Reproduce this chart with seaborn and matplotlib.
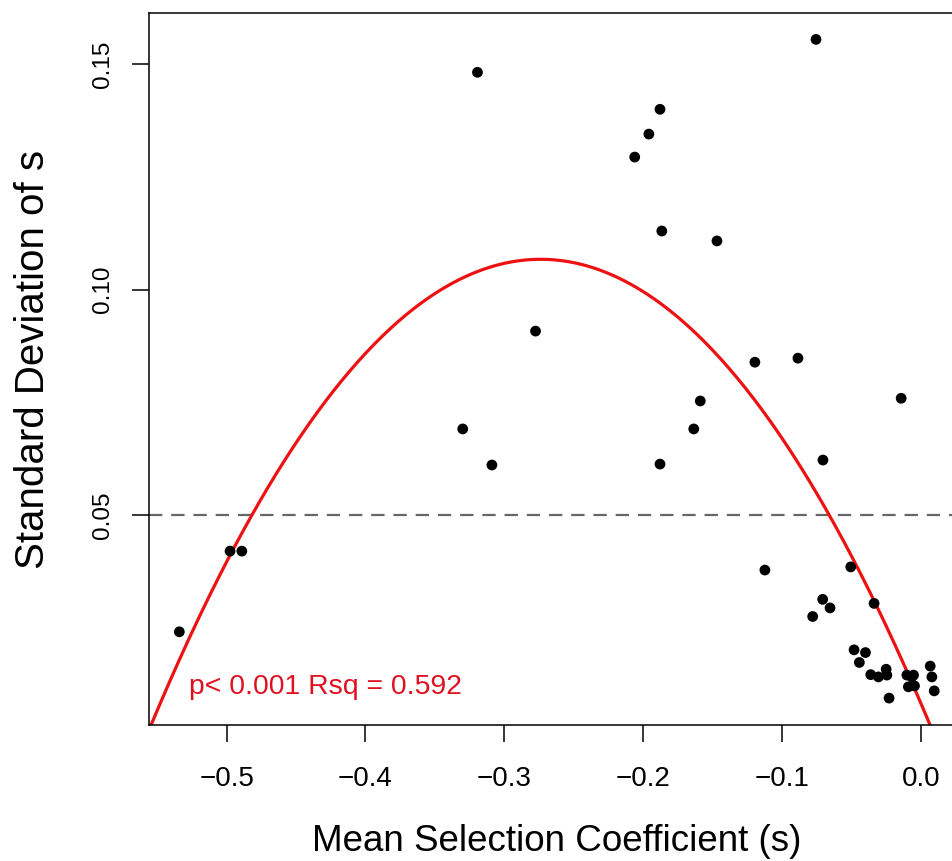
import matplotlib
matplotlib.use("Agg")
import matplotlib.pyplot as plt
import numpy as np
import pandas as pd
import seaborn as sns

sns.set_style("white")
plt.rcParams['font.family'] = ['Liberation Sans', 'DejaVu Sans']
plt.rcParams['text.color'] = 'black'
plt.rcParams['axes.labelcolor'] = 'black'
plt.rcParams['xtick.color'] = 'black'
plt.rcParams['ytick.color'] = 'black'

# Data
mean_s = [-0.534, -0.4975, -0.489, -0.3194, -0.330, -0.309, -0.2776, -0.2062, -0.196, -0.188,
          -0.1867, -0.188, -0.147, -0.1637, -0.159, -0.1197, -0.0887, -0.0757, -0.0707, -0.0144,
          -0.1125, -0.0507, -0.0709, -0.0656, -0.0781, -0.0339, -0.0483, -0.0401, -0.0445, -0.0363,
          -0.0308, -0.0252, -0.0247, -0.0231, -0.0103, -0.0067, -0.0055, -0.0092, -0.0048, 0.0065,
          0.0077, 0.0094]
sd_s = [0.0241, 0.0420, 0.0420, 0.1482, 0.0691, 0.0611, 0.0908, 0.1294, 0.1345, 0.1400,
        0.1130, 0.0613, 0.1108, 0.0691, 0.0753, 0.0839, 0.0848, 0.1555, 0.0622, 0.0759,
        0.0378, 0.0385, 0.0313, 0.0294, 0.0275, 0.0304, 0.0201, 0.0195, 0.0173, 0.0146,
        0.0141, 0.0158, 0.0145, 0.0094, 0.0145, 0.0141, 0.0145, 0.0119, 0.0121, 0.0165,
        0.0141, 0.0110]
# quadratic fit: a*x^2 + b*x + c
fit_coef = [-1.314, -0.720, 0.0081]
threshold = 0.05
annotation = "p< 0.001 Rsq = 0.592"

x_ticks = [-0.5, -0.4, -0.3, -0.2, -0.1, 0.0]
y_ticks = [0.05, 0.10, 0.15]

df = pd.DataFrame({"mean_s": mean_s, "sd_s": sd_s})

fig = plt.figure(figsize=(9.52, 8.61), dpi=100)
# plot region runs a little past the right edge of the picture (cropped like the reference)
ax = fig.add_axes([0.157, 0.158, 0.856, 0.8266])
xlim = (-0.5555, 0.0311)
ylim = (0.00344, 0.1613)

grid = np.linspace(xlim[0], xlim[1], 400)
curve = pd.DataFrame({"x": grid, "y": np.polyval(fit_coef, grid)})

ax.axhline(threshold, color="#666666", lw=1.6, ls=(0, (6, 4)), zorder=1)
sns.lineplot(data=curve, x="x", y="y", color="#ee1111", lw=2.3, ax=ax, zorder=2)
sns.scatterplot(data=df, x="mean_s", y="sd_s", color="black", s=60, edgecolor="none", ax=ax, zorder=3)

ax.text(-0.527, 0.0103, annotation, color="#e01020", fontsize=20.4, va="baseline", ha="left")

ax.set_xlim(*xlim)
ax.set_ylim(*ylim)
ax.set_xticks(x_ticks)
ax.set_xticklabels([f"{t:.1f}".replace("-", "\u2212") for t in x_ticks])
ax.set_yticks(y_ticks)
ax.set_yticklabels([f"{t:.2f}" for t in y_ticks], rotation=90, va="center")
ax.tick_params(axis="both", direction="out", length=12.2, width=1.1, color="black",
               bottom=True, left=True)
ax.tick_params(axis="x", pad=17.5, labelsize=20)
ax.tick_params(axis="y", pad=13, labelsize=17.5)
for side in ["left", "bottom", "top"]:
    ax.spines[side].set_color("black")
    ax.spines[side].set_linewidth(1.1)
ax.spines["right"].set_visible(False)

ax.set_xlabel("Mean Selection Coefficient (s)", fontsize=26.5)
ax.set_ylabel("Standard Deviation of s", fontsize=29)
ax.xaxis.set_label_coords(0.5, -0.139)
ax.yaxis.set_label_coords(-0.1196, 0.513)

fig.savefig("out.png", dpi=100)
